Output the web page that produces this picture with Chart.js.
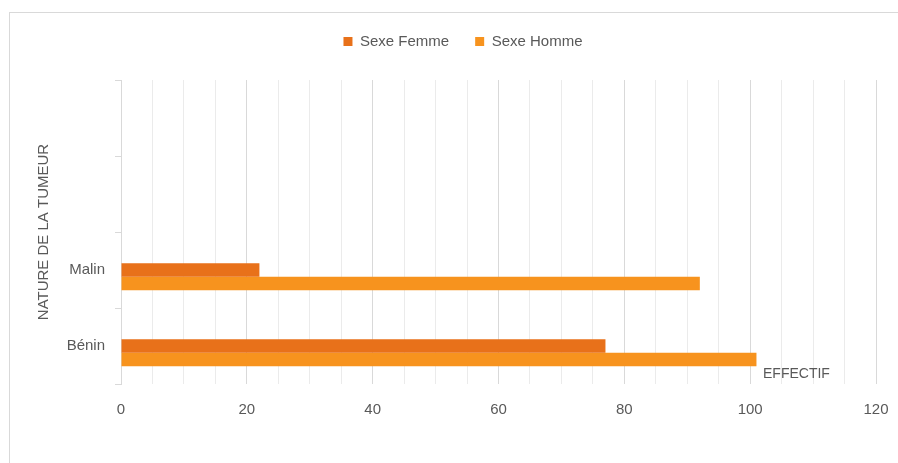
<!DOCTYPE html>
<html lang="fr">
<head>
<meta charset="utf-8">
<title>Nature de la tumeur selon le sexe</title>
<script src="https://cdn.jsdelivr.net/npm/chart.js@4.4.1/dist/chart.umd.min.js"></script>
<style>
  html, body { margin: 0; padding: 0; background: #ffffff; }
  #wrap { position: relative; width: 898px; height: 463px; overflow: hidden; }
  #frame { position: absolute; left: 9px; top: 12px; width: 1000px; height: 1000px;
           border-top: 1px solid #d9d9d9; border-left: 1px solid #d9d9d9; box-sizing: border-box; }
  #chart { position: absolute; left: 0; top: 0; }
</style>
</head>
<body>
<div id="wrap">
  <div id="frame"></div>
  <canvas id="chart" width="898" height="463"></canvas>
</div>
<script>
// Categories, listed from the bottom of the axis upward (two unused rows on top)
const categories = ['Bénin', 'Malin', '', ''];
// Number of patients by sex
const femme = [77, 22, null, null];
const homme = [101, 92, null, null];
// Empty series that takes the first slot of every group
const reserve = [null, null, null, null];
// X axis range and tick step
const xMin = 0;
const xMax = 120;
const xStep = 5;
const xLabelEvery = 20;

const TEXT = '#595959';
const FONT = "'Liberation Sans', Arial, sans-serif";

// Extra room between the legend and the plot, and legend nudged right
const legendPlacement = {
  id: 'legendPlacement',
  beforeInit(chart) {
    const fit = chart.legend.fit;
    chart.legend.fit = function () {
      fit.call(this);
      this.height += 21;
    };
  },
  afterLayout(chart) {
    chart.legend.left += 11;
    chart.legend.right += 11;
  }
};

// Axis title placed inside the plot, near the lower right corner
const effectifTitle = {
  id: 'effectifTitle',
  afterDraw(chart) {
    const { ctx, chartArea } = chart;
    ctx.save();
    ctx.font = '14px ' + FONT;
    ctx.fillStyle = TEXT;
    ctx.textAlign = 'left';
    ctx.textBaseline = 'middle';
    ctx.fillText('EFFECTIF', chartArea.right - 113, chartArea.bottom - 10);
    ctx.restore();
  }
};

new Chart(document.getElementById('chart'), {
  type: 'bar',
  data: {
    labels: categories,
    datasets: [
      { label: '', data: reserve, backgroundColor: 'rgba(0,0,0,0)' },
      { label: 'Sexe Femme', data: femme, backgroundColor: '#E8711A' },
      { label: 'Sexe Homme', data: homme, backgroundColor: '#F7931E' }
    ]
  },
  plugins: [legendPlacement, effectifTitle],
  options: {
    indexAxis: 'y',
    responsive: false,
    animation: false,
    devicePixelRatio: 1,
    layout: { padding: { left: 28, right: 22, top: 8, bottom: 30 } },
    datasets: {
      bar: { categoryPercentage: 0.533, barPercentage: 1.0, borderWidth: 0 }
    },
    plugins: {
      tooltip: { enabled: false },
      legend: {
        position: 'top',
        labels: {
          filter: (item) => item.text !== '',
          boxWidth: 9,
          boxHeight: 9,
          padding: 26,
          color: TEXT,
          font: { family: FONT, size: 15 }
        }
      }
    },
    scales: {
      x: {
        type: 'linear',
        min: xMin,
        max: xMax,
        afterFit(scale) {
          scale.height = 49;
          scale.paddingLeft = 0;
          scale.paddingRight = 0;
        },
        ticks: {
          stepSize: xStep,
          autoSkip: false,
          maxRotation: 0,
          padding: 17,
          color: TEXT,
          font: { family: FONT, size: 15 },
          callback: (v) => (v % xLabelEvery === 0 ? String(v) : '')
        },
        grid: {
          drawTicks: false,
          color: (ctx) => (ctx.tick && ctx.tick.value % xLabelEvery === 0 ? '#d9d9d9' : '#ebebeb')
        },
        border: { display: false }
      },
      y: {
        reverse: true,
        afterFit(scale) {
          scale.width = 93;
          scale.paddingTop = 0;
          scale.paddingBottom = 0;
        },
        ticks: {
          padding: 10,
          color: TEXT,
          font: { family: FONT, size: 15 }
        },
        grid: {
          offset: true,
          drawOnChartArea: false,
          drawTicks: true,
          tickLength: 6,
          color: '#d9d9d9'
        },
        border: { display: true, color: '#d9d9d9' },
        title: {
          display: true,
          text: 'NATURE DE LA TUMEUR',
          color: TEXT,
          font: { family: FONT, size: 15 },
          padding: { top: 7, bottom: 0 }
        }
      }
    }
  }
});
</script>
</body>
</html>
